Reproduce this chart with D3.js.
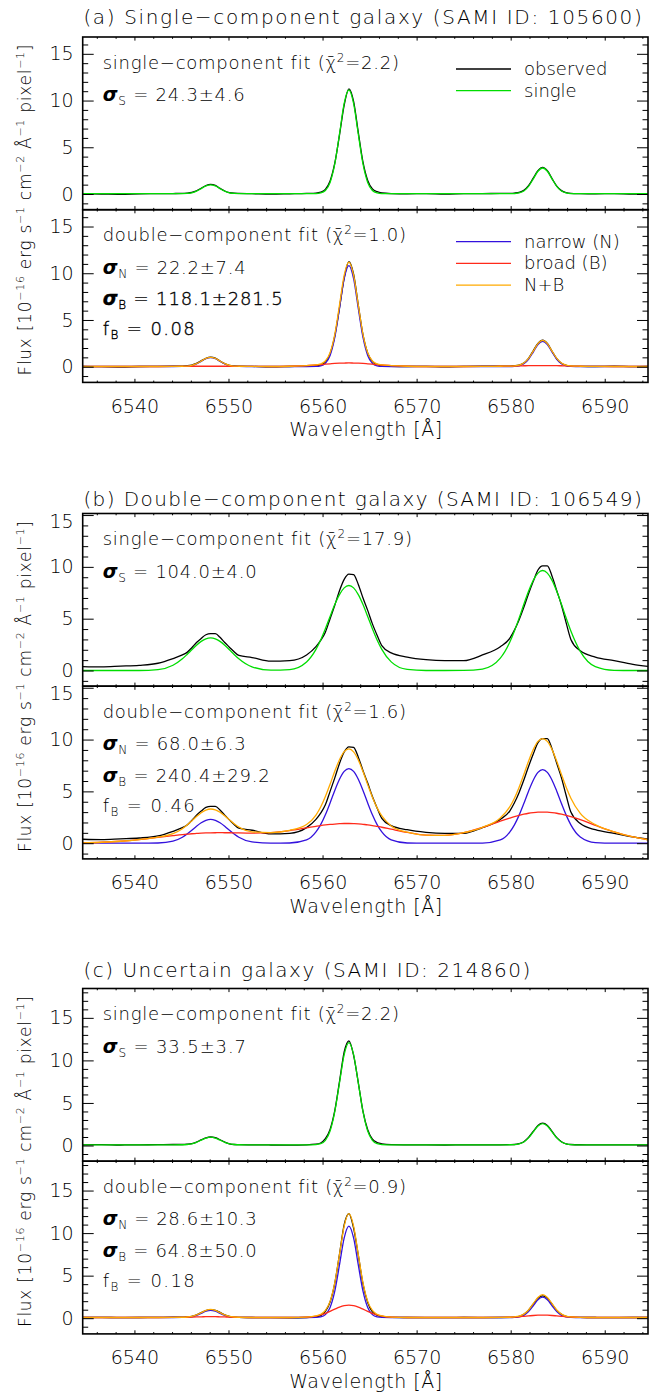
<!DOCTYPE html>
<html><head><meta charset="utf-8">
<script src="https://cdn.jsdelivr.net/npm/d3@7"></script>
<style>
body{margin:0;background:#fff}
svg{display:block}
text{font-family:"DejaVu Sans",sans-serif;font-weight:200;fill:#000}
</style>
</head><body>
<svg id="chart" width="664" height="1397"></svg>
<script>
// ---------------- DATA ----------------
const wave = [6534.5,6536.5,6538.5,6540.5,6542.5,6544.1,6545.1,6545.6,6546.1,6546.6,
6547.1,6547.6,6548.1,6548.6,6549.1,6549.6,6550.1,6550.6,6551.1,6552.5,
6554.5,6556.5,6558.3,6559.3,6559.8,6560.3,6560.8,6561.3,6561.8,6562.3,
6562.8,6563.3,6563.8,6564.3,6564.8,6565.3,6565.8,6566.3,6567.3,6569,
6571,6573,6575,6577,6578.9,6579.9,6580.4,6580.9,6581.4,6581.9,
6582.4,6582.9,6583.4,6583.9,6584.4,6584.9,6585.4,6585.9,6586.4,6587.4,
6589,6591,6593,6594.6];

// (a) SAMI 105600
const obsA = [0.02,0.00,-0.03,0.02,0.04,0.05,0.06,0.10,0.18,0.35,
0.62,0.90,1.02,0.92,0.60,0.32,0.15,0.08,0.06,0.03,
-0.02,0.02,0.06,0.10,0.20,0.50,1.40,3.30,6.30,9.50,
11.25,9.90,6.60,3.40,1.45,0.55,0.25,0.12,0.05,0.02,
0.04,-0.02,0.03,0.05,0.06,0.07,0.10,0.18,0.40,0.90,
1.70,2.50,2.85,2.50,1.65,0.85,0.36,0.15,0.07,0.04,
0.02,0.05,0.00,0.02];
const singleA = [0.03,0.03,0.03,0.03,0.03,0.03,0.04,0.06,0.13,0.30,
0.58,0.86,0.98,0.86,0.58,0.30,0.13,0.06,0.04,0.03,
0.03,0.03,0.03,0.04,0.11,0.38,1.24,3.22,6.41,9.70,
11.13,9.70,6.41,3.22,1.24,0.38,0.11,0.04,0.03,0.03,
0.03,0.03,0.03,0.03,0.03,0.03,0.05,0.12,0.33,0.82,
1.61,2.43,2.78,2.43,1.61,0.82,0.33,0.12,0.05,0.03,
0.03,0.03,0.03,0.03];
const narrowA = [0.02,0.02,0.02,0.02,0.02,0.02,0.03,0.05,0.12,0.29,
0.57,0.85,0.97,0.85,0.57,0.29,0.12,0.05,0.03,0.02,
0.02,0.02,0.02,0.03,0.09,0.36,1.20,3.13,6.23,9.43,
10.82,9.43,6.23,3.13,1.20,0.36,0.09,0.03,0.02,0.02,
0.02,0.02,0.02,0.02,0.02,0.02,0.04,0.10,0.31,0.80,
1.57,2.37,2.72,2.37,1.57,0.80,0.31,0.10,0.04,0.02,
0.02,0.02,0.02,0.02];
const broadA = [0.02,0.02,0.02,0.02,0.02,0.03,0.04,0.04,0.05,0.05,
0.05,0.05,0.05,0.05,0.05,0.05,0.05,0.04,0.04,0.03,
0.02,0.05,0.12,0.18,0.23,0.27,0.31,0.35,0.38,0.39,
0.40,0.39,0.38,0.35,0.31,0.27,0.23,0.18,0.12,0.05,
0.02,0.02,0.02,0.03,0.05,0.06,0.07,0.09,0.10,0.11,
0.11,0.12,0.12,0.12,0.11,0.11,0.10,0.09,0.07,0.05,
0.03,0.02,0.02,0.02];
const nbA = [0.02,0.02,0.02,0.02,0.02,0.03,0.05,0.07,0.15,0.32,
0.60,0.88,1.00,0.88,0.60,0.32,0.15,0.07,0.05,0.03,
0.02,0.05,0.12,0.19,0.30,0.61,1.49,3.46,6.59,9.80,
11.20,9.80,6.59,3.46,1.49,0.61,0.30,0.19,0.12,0.05,
0.02,0.02,0.02,0.03,0.05,0.06,0.09,0.17,0.39,0.89,
1.66,2.47,2.82,2.47,1.66,0.89,0.39,0.17,0.09,0.05,
0.03,0.02,0.02,0.02];

// (b) SAMI 106549
const obsB = [0.38,0.35,0.42,0.50,0.70,1.15,1.50,1.75,2.20,2.70,
3.10,3.45,3.55,3.55,3.20,2.70,2.25,1.80,1.45,1.25,
0.90,0.95,1.50,2.30,2.90,3.70,5.00,6.30,7.70,8.80,
9.30,9.25,8.30,7.00,5.80,4.50,3.40,2.40,1.70,1.30,
1.05,0.95,0.95,1.50,2.30,3.10,3.90,4.90,6.10,7.40,
8.60,9.70,10.10,10.10,9.10,7.70,6.30,4.60,3.00,1.90,
1.30,0.95,0.60,0.40];
const singleB = [0.00,0.00,0.00,0.00,0.09,0.51,1.13,1.55,2.00,2.44,
2.81,3.06,3.15,3.06,2.81,2.44,2.00,1.55,1.13,0.35,
0.03,0.09,0.83,2.04,2.95,4.03,5.21,6.36,7.32,7.97,
8.20,7.97,7.32,6.36,5.21,4.03,2.95,2.04,0.83,0.10,
0.00,0.00,0.01,0.14,1.19,2.72,3.81,5.06,6.39,7.64,
8.70,9.40,9.65,9.40,8.70,7.64,6.39,5.06,3.81,1.85,
0.38,0.02,0.00,0.00];
const narrowB = [0.00,0.00,0.00,0.00,0.02,0.20,0.57,0.88,1.24,1.63,
1.97,2.21,2.30,2.21,1.97,1.63,1.24,0.88,0.57,0.12,
0.00,0.02,0.32,1.09,1.79,2.74,3.88,5.09,6.17,6.93,
7.20,6.93,6.17,5.09,3.88,2.74,1.79,1.09,0.32,0.02,
0.00,0.00,0.00,0.01,0.31,1.07,1.77,2.71,3.83,5.02,
6.08,6.83,7.10,6.83,6.08,5.02,3.83,2.71,1.77,0.60,
0.06,0.00,0.00,0.00];
const broadB = [0.04,0.09,0.19,0.35,0.56,0.73,0.83,0.87,0.91,0.94,
0.97,0.99,1.00,1.01,1.02,1.01,1.01,1.00,0.99,0.98,
1.03,1.22,1.48,1.63,1.70,1.76,1.81,1.85,1.88,1.90,
1.90,1.89,1.87,1.82,1.77,1.70,1.62,1.54,1.35,1.04,
0.78,0.76,1.01,1.52,2.13,2.43,2.57,2.69,2.80,2.89,
2.95,2.99,3.00,2.99,2.95,2.89,2.80,2.69,2.57,2.27,
1.73,1.09,0.60,0.33];
const nbB = [0.04,0.09,0.19,0.35,0.58,0.93,1.40,1.75,2.15,2.57,
2.94,3.20,3.30,3.22,2.99,2.64,2.25,1.88,1.56,1.10,
1.03,1.24,1.80,2.72,3.49,4.50,5.69,6.94,8.05,8.83,
9.10,8.82,8.04,6.91,5.65,4.44,3.41,2.63,1.67,1.06,
0.78,0.76,1.01,1.53,2.44,3.50,4.34,5.40,6.63,7.91,
9.03,9.82,10.10,9.82,9.03,7.91,6.63,5.40,4.34,2.87,
1.79,1.09,0.60,0.33];

// (c) SAMI 214860
const obsC = [0.08,0.10,0.06,0.08,0.10,0.12,0.12,0.15,0.22,0.40,
0.66,0.90,1.00,0.92,0.68,0.40,0.20,0.12,0.10,0.08,
0.06,0.05,0.08,0.15,0.30,0.80,1.90,4.10,7.50,11.00,
12.30,10.60,7.40,4.00,1.85,0.75,0.35,0.20,0.10,0.08,
0.07,0.06,0.08,0.07,0.08,0.10,0.12,0.22,0.45,0.95,
1.65,2.35,2.62,2.35,1.65,0.92,0.45,0.20,0.12,0.09,
0.08,0.07,0.08,0.08];
const singleC = [0.08,0.08,0.08,0.08,0.08,0.08,0.09,0.12,0.20,0.37,
0.63,0.87,0.98,0.87,0.63,0.37,0.20,0.12,0.09,0.08,
0.08,0.08,0.08,0.11,0.21,0.61,1.70,3.98,7.36,10.67,
12.08,10.67,7.36,3.98,1.70,0.61,0.21,0.11,0.08,0.08,
0.08,0.08,0.08,0.08,0.08,0.09,0.11,0.19,0.42,0.89,
1.60,2.29,2.58,2.29,1.60,0.89,0.42,0.19,0.11,0.08,
0.08,0.08,0.08,0.08];
const narrowC = [0.08,0.08,0.08,0.08,0.08,0.08,0.09,0.11,0.17,0.32,
0.57,0.82,0.93,0.82,0.57,0.32,0.17,0.11,0.09,0.08,
0.08,0.08,0.08,0.09,0.15,0.42,1.25,3.17,6.26,9.44,
10.83,9.44,6.26,3.17,1.25,0.42,0.15,0.09,0.08,0.08,
0.08,0.08,0.08,0.08,0.08,0.08,0.10,0.16,0.34,0.77,
1.46,2.17,2.48,2.17,1.46,0.77,0.34,0.16,0.10,0.08,
0.08,0.08,0.08,0.08];
const broadC = [0.08,0.08,0.08,0.08,0.08,0.09,0.10,0.11,0.13,0.15,
0.16,0.18,0.18,0.18,0.16,0.15,0.13,0.11,0.10,0.08,
0.08,0.08,0.12,0.25,0.39,0.57,0.81,1.06,1.30,1.47,
1.53,1.47,1.30,1.06,0.81,0.57,0.39,0.25,0.12,0.08,
0.08,0.08,0.08,0.08,0.09,0.11,0.14,0.17,0.22,0.27,
0.32,0.35,0.36,0.35,0.32,0.27,0.22,0.17,0.14,0.10,
0.08,0.08,0.08,0.08];
const nbC = [0.08,0.08,0.08,0.08,0.08,0.09,0.11,0.14,0.22,0.39,
0.65,0.92,1.03,0.92,0.65,0.39,0.22,0.14,0.11,0.08,
0.08,0.08,0.12,0.26,0.46,0.91,1.98,4.15,7.48,10.83,
12.28,10.83,7.48,4.15,1.98,0.91,0.46,0.26,0.12,0.08,
0.08,0.08,0.08,0.08,0.09,0.11,0.16,0.25,0.48,0.96,
1.70,2.44,2.76,2.44,1.70,0.96,0.48,0.25,0.16,0.10,
0.08,0.08,0.08,0.08];

const peakMax = [11.2, 10.1, 12.3];
const titles = ["(a) Single\u2212component galaxy (SAMI ID: 105600)",
                "(b) Double\u2212component galaxy (SAMI ID: 106549)",
                "(c) Uncertain galaxy (SAMI ID: 214860)"];
const chiSingle = ["2.2","17.9","2.2"];
const chiDouble = ["1.0","1.6","0.9"];
const sigmaS = ["24.3\u00b14.6","104.0\u00b14.0","33.5\u00b13.7"];
const sigmaN = ["22.2\u00b17.4","68.0\u00b16.3","28.6\u00b110.3"];
const sigmaB = ["118.1\u00b1281.5","240.4\u00b129.2","64.8\u00b150.0"];
const fracB = ["0.08","0.46","0.18"];
const xMajor = [6540,6550,6560,6570,6580,6590];
const xMinor = d3.range(6536,6595,2).filter(v=>v%10!==0);
const yMajor = [0,5,10,15];
const legendTop = ["observed","single"];
const legendBottom = ["narrow (N)","broad (B)","N+B"];

const obsSets = [obsA, obsB, obsC];
const singleSets = [singleA, singleB, singleC];
const narrowSets = [narrowA, narrowB, narrowC];
const broadSets = [broadA, broadB, broadC];
const nbSets = [nbA, nbB, nbC];

// ---------------- LAYOUT ----------------
const COL = {obs:"#000000", single:"#00dd00", narrow:"#3311dd", broad:"#ff2a1a", nb:"#ffaa00"};
const fx0 = 82.7, fx1 = 648;
const groupTop = [37, 513.5, 988.5];
const ph = 172.7;
const titleBase = [24, 506, 977.3];
const rowOff = [31.5, 64, 95.5, 125.5];
const txtX = 102.7;

const svg = d3.select("#chart");
const x = d3.scaleLinear().domain([6534.5, 6594.6]).range([fx0, fx1]);

function fitWidth(el, target){
  const n = el.getNumberOfChars();
  const w = el.getComputedTextLength();
  if(n>1) el.setAttribute("letter-spacing", ((target - w)/(n-1)).toFixed(3));
}

let clipId = 0;
function panel(top, yMax, series, showX){
  const y = d3.scaleLinear().domain([-0.15*yMax, 1.5*yMax]).range([top+ph, top]);
  const g = svg.append("g");
  const id = "clip"+(clipId++);
  svg.append("clipPath").attr("id", id).append("rect")
     .attr("x", fx0).attr("y", top).attr("width", fx1-fx0).attr("height", ph);
  const line = d3.line().x((d,i)=>x(wave[i])).y(d=>y(d)).curve(d3.curveMonotoneX);
  const lg = g.append("g").attr("clip-path", `url(#${id})`);
  series.forEach(s=>{
    lg.append("path").attr("d", line(s.v)).attr("fill","none")
      .attr("stroke", s.c).attr("stroke-width", 1.3).attr("stroke-linejoin","round");
  });
  const yMinor = d3.range(Math.ceil(-0.15*yMax), Math.floor(1.5*yMax)+1).filter(v=>v%5!==0);
  const ax = (gen, tr) => g.append("g").attr("transform", tr).call(gen)
     .call(s=>s.select(".domain").remove())
     .call(s=>s.selectAll("line").attr("stroke","#000").attr("stroke-width",1));
  const bMaj = ax(d3.axisBottom(x).tickValues(xMajor).tickSize(-3.6).tickSizeOuter(0).tickPadding(17)
       .tickFormat(showX ? d3.format("d") : ""), `translate(0,${top+ph})`);
  bMaj.selectAll("text").attr("font-size", 19).attr("font-family","DejaVu Sans").attr("font-weight",200).attr("fill","#000");
  ax(d3.axisBottom(x).tickValues(xMinor).tickSize(-1.8).tickSizeOuter(0).tickFormat(""), `translate(0,${top+ph})`);
  ax(d3.axisTop(x).tickValues(xMajor).tickSize(-3.6).tickSizeOuter(0).tickFormat(""), `translate(0,${top})`);
  ax(d3.axisTop(x).tickValues(xMinor).tickSize(-1.8).tickSizeOuter(0).tickFormat(""), `translate(0,${top})`);
  const lMaj = ax(d3.axisLeft(y).tickValues(yMajor).tickSize(-11).tickSizeOuter(0).tickPadding(9)
       .tickFormat(d3.format("d")), `translate(${fx0},0)`);
  lMaj.selectAll("text").attr("font-size", 19).attr("font-family","DejaVu Sans").attr("font-weight",200).attr("fill","#000")
      .attr("y", d => Math.max(0, top + 7.5 - y(d)));
  ax(d3.axisLeft(y).tickValues(yMinor).tickSize(-5.5).tickSizeOuter(0).tickFormat(""), `translate(${fx0},0)`);
  ax(d3.axisRight(y).tickValues(yMajor).tickSize(-11).tickSizeOuter(0).tickFormat(""), `translate(${fx1},0)`);
  ax(d3.axisRight(y).tickValues(yMinor).tickSize(-5.5).tickSizeOuter(0).tickFormat(""), `translate(${fx1},0)`);
  g.append("rect").attr("x", fx0).attr("y", top).attr("width", fx1-fx0).attr("height", ph)
    .attr("fill","none").attr("stroke","#000").attr("stroke-width",1.6);
  return y;
}

function header(top, label, chi, target){
  const t = svg.append("text").attr("x", txtX).attr("y", top+rowOff[0]).attr("font-size", 18);
  t.append("tspan").text(label + " fit (");
  t.append("tspan").text("\u03c7\u0304");
  t.append("tspan").attr("font-size", 12).attr("dy", -7).text("2");
  t.append("tspan").attr("dy", 7).text("=" + chi + ")");
  fitWidth(t.node(), target);
}
function stat(top, row, sym, sub, val, target, heavy){
  const t = svg.append("text").attr("x", txtX).attr("y", top+rowOff[row]).attr("font-size", 18);
  if(sym === "\u03c3") t.append("tspan").attr("font-style","italic").attr("font-weight","bold").attr("font-size",19).text(sym);
  else t.append("tspan").text(sym);
  t.append("tspan").attr("font-size", 12).attr("dy", 4).text(sub);
  t.append("tspan").attr("dy", -4).text(" = " + val);
  if(heavy) t.attr("stroke","#000").attr("stroke-width",0.35);
  fitWidth(t.node(), target);
}
function legend(top, names, colors){
  names.forEach((n,i)=>{
    const cy = top + 32 + i*21.7;
    svg.append("line").attr("x1",456).attr("x2",511).attr("y1",cy).attr("y2",cy)
      .attr("stroke", colors[i]).attr("stroke-width",1.3);
    svg.append("text").attr("x",524).attr("y",cy+6).attr("font-size",18).text(n);
  });
}

const statW = {
  S:[142,154,143.3], N:[143,143,154], B:[180,167,154], f:[92,92,92],
  hs:[297,310,297], hd:[304,304,304]
};
const titleW = [558.4, 558.4, 447];
const heavyB = [true,false,false];

for(let k=0;k<3;k++){
  const t0 = groupTop[k], t1 = groupTop[k]+ph;
  const tt = svg.append("text").attr("x", 83.4).attr("y", titleBase[k]).attr("font-size", 20).text(titles[k]);
  fitWidth(tt.node(), titleW[k]);
  panel(t0, peakMax[k], [{v:obsSets[k],c:COL.obs},{v:singleSets[k],c:COL.single}], false);
  panel(t1, peakMax[k], [{v:obsSets[k],c:COL.obs},{v:narrowSets[k],c:COL.narrow},
                         {v:broadSets[k],c:COL.broad},{v:nbSets[k],c:COL.nb}], true);
  header(t0, "single\u2212component", chiSingle[k], statW.hs[k]);
  stat(t0, 1, "\u03c3", "S", sigmaS[k], statW.S[k], false);
  header(t1, "double\u2212component", chiDouble[k], statW.hd[k]);
  stat(t1, 1, "\u03c3", "N", sigmaN[k], statW.N[k], false);
  stat(t1, 2, "\u03c3", "B", sigmaB[k], statW.B[k], heavyB[k]);
  stat(t1, 3, "f", "B", fracB[k], statW.f[k], heavyB[k]);
  if(k===0){
    legend(t0, legendTop, [COL.obs, COL.single]);
    legend(t1, legendBottom, [COL.narrow, COL.broad, COL.nb]);
  }
  const xl = svg.append("text").attr("x", 366).attr("y", t1+ph+54).attr("text-anchor","middle")
     .attr("font-size", 19).text("Wavelength [\u00c5]");
  fitWidth(xl.node(), 153);
  const yl = svg.append("text").attr("transform", `translate(31,${t1}) rotate(-90)`)
     .attr("text-anchor","middle").attr("font-size", 17);
  const parts = [["Flux [10",0],["\u221216",1],[" erg s",0],["\u22121",1],[" cm",0],["\u22122",1],
                 [" \u00c5",0],["\u22121",1],[" pixel",0],["\u22121",1],["]",0]];
  let up = false;
  parts.forEach(([s,sup])=>{
    const ts = yl.append("tspan").text(s);
    if(sup && !up){ ts.attr("dy",-7).attr("font-size",11); up = true; }
    else if(sup){ ts.attr("font-size",11); }
    else if(up){ ts.attr("dy",7); up = false; }
  });
  fitWidth(yl.node(), 331);
}
</script>
</body></html>
